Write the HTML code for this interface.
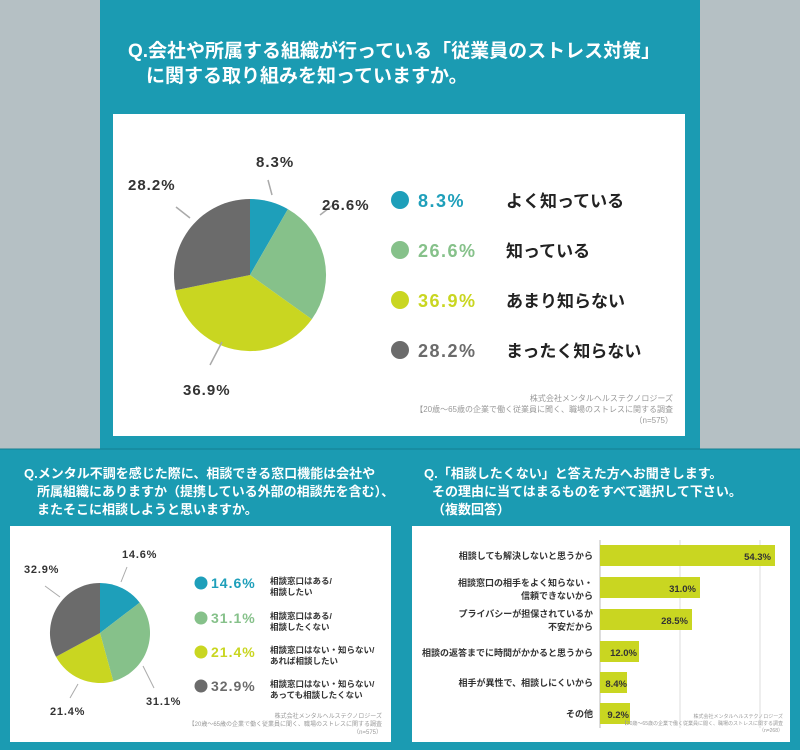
<!DOCTYPE html>
<html><head><meta charset="utf-8"><style>
body{margin:0;width:800px;height:750px;overflow:hidden;background:#b5c0c4}
svg{display:block}
text{font-family:"Liberation Sans","Noto Sans CJK JP",sans-serif}
</style></head><body>
<svg width="800" height="750" viewBox="0 0 800 750">
<rect x="0" y="0" width="800" height="750" fill="#b5c0c4"/>
<rect x="100" y="0" width="600" height="449" fill="#1b9bb2"/>
<rect x="0" y="449" width="800" height="301" fill="#1b9bb2"/>
<line x1="0" y1="449" x2="800" y2="449" stroke="#167f92" stroke-width="1"/>
<g fill="#fff" font-weight="bold" font-size="19">
<text x="128" y="57">Q.会社や所属する組織が行っている「従業員のストレス対策」</text>
<text x="146" y="82">に関する取り組みを知っていますか。</text>
</g>
<rect x="113" y="114" width="572" height="322" fill="#fff"/>
<path d="M250,275 L250,199 A76,76 0 0 1 287.9,209.1 Z" fill="#1e9fba"/>
<path d="M250,275 L287.9,209.1 A76,76 0 0 1 311.8,319.3 Z" fill="#86c18a"/>
<path d="M250,275 L311.8,319.3 A76,76 0 0 1 175.5,290.2 Z" fill="#c9d621"/>
<path d="M250,275 L175.5,290.2 A76,76 0 0 1 250,199 Z" fill="#6b6b6b"/>
<g stroke="#aaa" stroke-width="1.5">
<line x1="268" y1="180" x2="272" y2="195"/>
<line x1="320" y1="215" x2="333" y2="205"/>
<line x1="190" y1="218" x2="176" y2="207"/>
<line x1="222" y1="342" x2="210" y2="365"/>
</g>
<g font-size="15" font-weight="bold" fill="#333" letter-spacing="1">
<text x="256" y="167">8.3%</text>
<text x="322" y="210">26.6%</text>
<text x="128" y="190">28.2%</text>
<text x="183" y="395">36.9%</text>
</g>
<g font-size="18" font-weight="bold">
<g letter-spacing="1.5">
<circle cx="400" cy="200" r="9" fill="#1e9fba"/><text x="418" y="207" fill="#1e9fba">8.3%</text>
<circle cx="400" cy="250" r="9" fill="#86c18a"/><text x="418" y="257" fill="#86c18a">26.6%</text>
<circle cx="400" cy="300" r="9" fill="#c9d621"/><text x="418" y="307" fill="#c9d621">36.9%</text>
<circle cx="400" cy="350" r="9" fill="#6b6b6b"/><text x="418" y="357" fill="#6b6b6b">28.2%</text>
</g>
<g fill="#222" font-size="17">
<text x="506" y="207">よく知っている</text>
<text x="506" y="257">知っている</text>
<text x="506" y="307">あまり知らない</text>
<text x="506" y="357">まったく知らない</text>
</g></g>
<g font-size="8" fill="#999" text-anchor="end">
<text x="673" y="401">株式会社メンタルヘルステクノロジーズ</text>
<text x="673" y="412">【20歳～65歳の企業で働く従業員に聞く、職場のストレスに関する調査</text>
<text x="673" y="423">（n=575）</text>
</g>
<g fill="#fff" font-weight="bold" font-size="13">
<text x="24" y="478">Q.メンタル不調を感じた際に、相談できる窓口機能は会社や</text>
<text x="37" y="496">所属組織にありますか（提携している外部の相談先を含む）、</text>
<text x="37" y="514">またそこに相談しようと思いますか。</text>
</g>
<rect x="10" y="526" width="381" height="216" fill="#fff"/>
<path d="M100,633 L100,583 A50,50 0 0 1 139.7,602.6 Z" fill="#1e9fba"/>
<path d="M100,633 L139.7,602.6 A50,50 0 0 1 113.3,681.2 Z" fill="#86c18a"/>
<path d="M100,633 L113.3,681.2 A50,50 0 0 1 56,656.8 Z" fill="#c9d621"/>
<path d="M100,633 L56,656.8 A50,50 0 0 1 100,583 Z" fill="#6b6b6b"/>
<g stroke="#aaa" stroke-width="1">
<line x1="127" y1="567" x2="121" y2="582"/>
<line x1="45" y1="586" x2="60" y2="597"/>
<line x1="143" y1="666" x2="154" y2="688"/>
<line x1="78" y1="684" x2="70" y2="698"/>
</g>
<g font-size="11" font-weight="bold" fill="#333" letter-spacing="0.8">
<text x="122" y="558">14.6%</text>
<text x="24" y="573">32.9%</text>
<text x="146" y="705">31.1%</text>
<text x="50" y="715">21.4%</text>
</g>
<g font-weight="bold">
<g letter-spacing="1">
<circle cx="201" cy="583" r="6.5" fill="#1e9fba"/><text x="211" y="588" font-size="14" fill="#1e9fba">14.6%</text>
<circle cx="201" cy="618" r="6.5" fill="#86c18a"/><text x="211" y="623" font-size="14" fill="#86c18a">31.1%</text>
<circle cx="201" cy="652" r="6.5" fill="#c9d621"/><text x="211" y="657" font-size="14" fill="#c9d621">21.4%</text>
<circle cx="201" cy="686" r="6.5" fill="#6b6b6b"/><text x="211" y="691" font-size="14" fill="#6b6b6b">32.9%</text>
</g>
<g font-size="8.5" fill="#333">
<text x="270" y="584">相談窓口はある/</text><text x="270" y="595">相談したい</text>
<text x="270" y="619">相談窓口はある/</text><text x="270" y="630">相談したくない</text>
<text x="270" y="653">相談窓口はない・知らない/</text><text x="270" y="664">あれば相談したい</text>
<text x="270" y="687">相談窓口はない・知らない/</text><text x="270" y="698">あっても相談したくない</text>
</g></g>
<g font-size="6" fill="#999" text-anchor="end">
<text x="382" y="718">株式会社メンタルヘルステクノロジーズ</text>
<text x="382" y="726">【20歳～65歳の企業で働く従業員に聞く、職場のストレスに関する調査</text>
<text x="382" y="734">（n=575）</text>
</g>
<g fill="#fff" font-weight="bold" font-size="13">
<text x="424" y="478">Q.「相談したくない」と答えた方へお聞きします。</text>
<text x="432" y="496">その理由に当てはまるものをすべて選択して下さい。</text>
<text x="432" y="514">（複数回答）</text>
</g>
<rect x="412" y="526" width="378" height="216" fill="#fff"/>
<g stroke="#ddd" stroke-width="1">
<line x1="680" y1="540" x2="680" y2="728"/>
<line x1="760" y1="540" x2="760" y2="728"/>
</g>
<line x1="600" y1="540" x2="600" y2="728" stroke="#bbb" stroke-width="1"/>
<g fill="#c9d621">
<rect x="600" y="545" width="175" height="21"/>
<rect x="600" y="577" width="100" height="21"/>
<rect x="600" y="609" width="92" height="21"/>
<rect x="600" y="641" width="39" height="21"/>
<rect x="600" y="672" width="27" height="21"/>
<rect x="600" y="703" width="30" height="21"/>
</g>
<g font-size="9.5" font-weight="bold" fill="#333" text-anchor="end">
<text x="771" y="560">54.3%</text>
<text x="696" y="592">31.0%</text>
<text x="688" y="624">28.5%</text>
<text x="637" y="656">12.0%</text>
<text x="627" y="687">8.4%</text>
<text x="629" y="718">9.2%</text>
</g>
<g font-size="9" font-weight="bold" fill="#333" text-anchor="end">
<text x="593" y="559">相談しても解決しないと思うから</text>
<text x="593" y="586">相談窓口の相手をよく知らない・</text>
<text x="593" y="599">信頼できないから</text>
<text x="593" y="617">プライバシーが担保されているか</text>
<text x="593" y="630">不安だから</text>
<text x="593" y="656">相談の返答までに時間がかかると思うから</text>
<text x="593" y="686">相手が異性で、相談しにくいから</text>
<text x="593" y="717">その他</text>
</g>
<g font-size="5" fill="#999" text-anchor="end">
<text x="783" y="718">株式会社メンタルヘルステクノロジーズ</text>
<text x="783" y="725">【20歳～65歳の企業で働く従業員に聞く、職場のストレスに関する調査</text>
<text x="783" y="732">（n=268）</text>
</g>
</svg>
</body></html>
